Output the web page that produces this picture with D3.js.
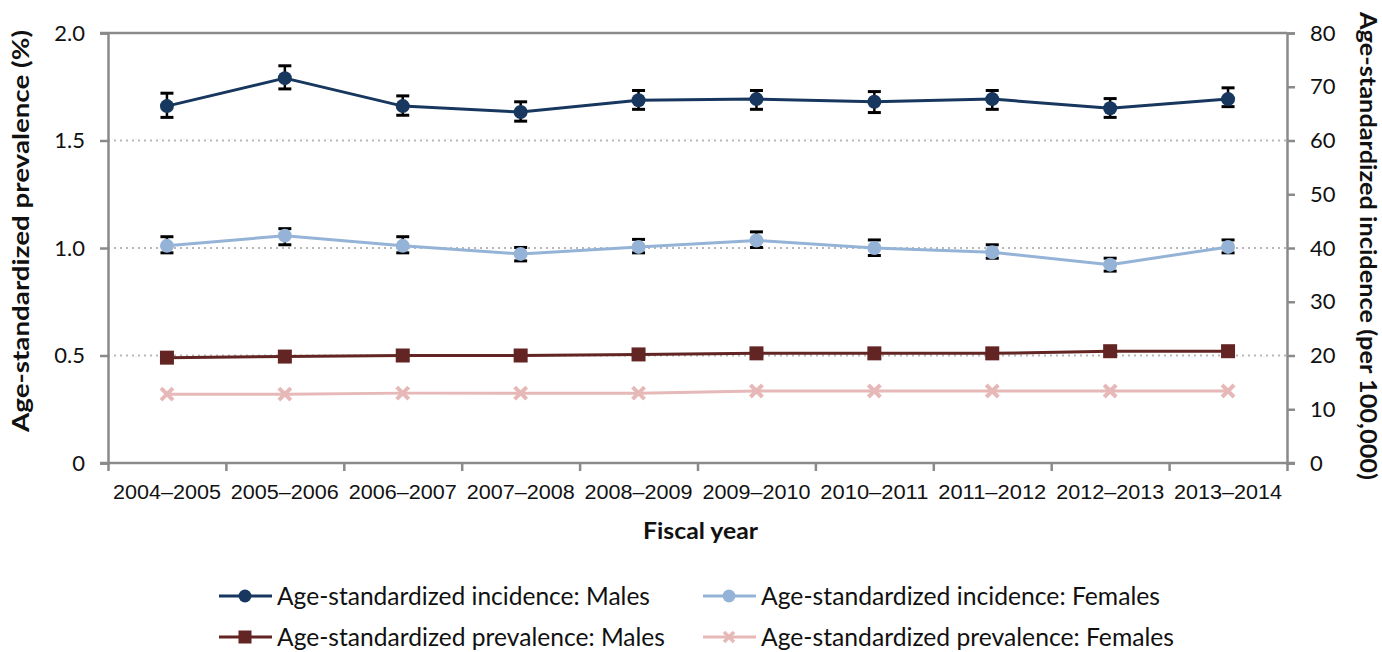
<!DOCTYPE html>
<html>
<head>
<meta charset="utf-8">
<script src="https://cdn.jsdelivr.net/npm/d3@7"></script>
<style>
  html, body { margin: 0; padding: 0; background: #fff; }
  svg { display: block; font-family: Lato, "Open Sans", sans-serif; }
</style>
</head>
<body>
<svg id="chart" width="1382" height="652"></svg>
<script>
// Fiscal years on the category axis
const years = ["2004\u20132005", "2005\u20132006", "2006\u20132007", "2007\u20132008", "2008\u20132009",
               "2009\u20132010", "2010\u20132011", "2011\u20132012", "2012\u20132013", "2013\u20132014"];

// Age-standardized incidence per 100,000 (right axis), with 95% CI bounds
const incMales     = [66.4, 71.6, 66.4, 65.3, 67.5, 67.7, 67.2, 67.7, 66.0, 67.7];
const incMalesLo   = [64.3, 69.6, 64.7, 63.6, 65.8, 65.8, 65.2, 65.8, 64.3, 66.3];
const incMalesHi   = [68.8, 73.9, 68.3, 67.2, 69.3, 69.3, 69.1, 69.3, 67.8, 69.8];
const incFemales   = [40.4, 42.3, 40.4, 38.9, 40.2, 41.4, 40.0, 39.2, 36.9, 40.2];
const incFemalesLo = [39.1, 40.6, 39.1, 37.6, 39.1, 40.1, 38.6, 38.1, 35.7, 39.1];
const incFemalesHi = [42.1, 43.6, 42.1, 40.1, 41.6, 43.0, 41.5, 40.6, 38.1, 41.5];

// Age-standardized prevalence in % (left axis)
const prevMales   = [0.490, 0.495, 0.500, 0.500, 0.505, 0.510, 0.510, 0.510, 0.520, 0.520];
const prevFemales = [0.320, 0.320, 0.325, 0.325, 0.325, 0.335, 0.335, 0.335, 0.335, 0.335];

// Axis ticks
const leftTicks  = [0, 0.5, 1.0, 1.5, 2.0];
const rightTicks = [0, 10, 20, 30, 40, 50, 60, 70, 80];

const colors = {
  incM: "#17375E",
  incF: "#95B3D7",
  prevM: "#632523",
  prevF: "#E6B9B8"
};

const svg = d3.select("#chart");
const m = { left: 108, right: 1287, top: 33, bottom: 463 };

const x = d3.scaleBand().domain(years).range([m.left, m.right]).padding(0);
const yL = d3.scaleLinear().domain([0, 2]).range([m.bottom, m.top]);
const yR = d3.scaleLinear().domain([0, 80]).range([m.bottom, m.top]);
const cx = d => x(d) + x.bandwidth() / 2;

const axisColor = "#8a8a8a";
const textColor = "#111";

// Stretch or squeeze a text element to a given advance width
function fit(sel, width) {
  sel.attr("textLength", width).attr("lengthAdjust", "spacingAndGlyphs");
  return sel;
}

// Dotted gridlines
svg.append("g").selectAll("line")
  .data(leftTicks.filter(t => t > 0 && t < 2))
  .join("line")
  .attr("x1", m.left).attr("x2", m.right)
  .attr("y1", d => yL(d)).attr("y2", d => yL(d))
  .attr("stroke", "#b8b8b8").attr("stroke-width", 2)
  .attr("stroke-dasharray", "2,4");

// Top border of the plot area
svg.append("line")
  .attr("x1", m.left - 8).attr("x2", m.right)
  .attr("y1", m.top).attr("y2", m.top)
  .attr("stroke", axisColor).attr("stroke-width", 2.5);

// Left axis
const gL = svg.append("g").attr("transform", `translate(${m.left},0)`)
  .call(d3.axisLeft(yL).tickValues(leftTicks).tickSize(8).tickPadding(15)
    .tickFormat(d => d === 0 ? "0" : d3.format(".1f")(d)));
// Right axis
const gR = svg.append("g").attr("transform", `translate(${m.right},0)`)
  .call(d3.axisRight(yR).tickValues(rightTicks).tickSize(8).tickPadding(15));
// Bottom axis, ticks on band boundaries
const boundaries = years.map(d => x(d)).concat([m.right]);
const gB = svg.append("g").attr("transform", `translate(0,${m.bottom})`)
  .call(d3.axisBottom(d3.scaleLinear().domain([m.left, m.right]).range([m.left, m.right]))
    .tickValues(boundaries).tickSize(8).tickFormat(""));
gB.append("g").selectAll("text")
  .data(years).join("text")
  .attr("x", d => cx(d)).attr("y", 36)
  .attr("text-anchor", "middle")
  .attr("fill", textColor)
  .attr("font-size", 19.5)
  .text(d => d)
  .call(fit, 108);

[gL, gR, gB].forEach(g => {
  g.select(".domain").attr("stroke", axisColor).attr("stroke-width", 2.5);
  g.selectAll(".tick line").attr("stroke", axisColor).attr("stroke-width", 2.5);
  g.selectAll(".tick text").attr("fill", textColor).attr("font-size", 22)
    .attr("font-family", "Lato, sans-serif");
});
gB.select(".domain").attr("d", `M${m.left - 8},0H${m.right + 8}`);

// Axis titles
svg.append("text")
  .attr("transform", `translate(29,231) rotate(-90)`)
  .attr("text-anchor", "middle")
  .attr("font-weight", 700).attr("font-size", 22).attr("fill", textColor)
  .text("Age-standardized prevalence (%)")
  .call(fit, 402);
svg.append("text")
  .attr("transform", `translate(1360,246) rotate(90)`)
  .attr("text-anchor", "middle")
  .attr("font-weight", 700).attr("font-size", 22).attr("fill", textColor)
  .text("Age-standardized incidence (per 100,000)")
  .call(fit, 468);
svg.append("text")
  .attr("x", 700.5).attr("y", 539)
  .attr("text-anchor", "middle")
  .attr("font-weight", 700).attr("font-size", 22).attr("fill", textColor)
  .text("Fiscal year")
  .call(fit, 115);

// Series drawing helpers
function drawLine(values, y, color) {
  svg.append("path")
    .datum(values)
    .attr("fill", "none")
    .attr("stroke", color).attr("stroke-width", 3)
    .attr("stroke-linejoin", "round")
    .attr("d", d3.line().x((d, i) => cx(years[i])).y(d => y(d)));
}
function drawErrorBars(lo, hi, y) {
  const g = svg.append("g").attr("stroke", "#000").attr("stroke-width", 2.5);
  years.forEach((yr, i) => {
    const X = cx(yr);
    g.append("line").attr("x1", X).attr("x2", X).attr("y1", y(lo[i])).attr("y2", y(hi[i]));
    g.append("line").attr("x1", X - 6.5).attr("x2", X + 6.5).attr("y1", y(lo[i])).attr("y2", y(lo[i])).attr("stroke-width", 3);
    g.append("line").attr("x1", X - 6.5).attr("x2", X + 6.5).attr("y1", y(hi[i])).attr("y2", y(hi[i])).attr("stroke-width", 3);
  });
}
function drawCircles(values, y, color, r) {
  svg.append("g").selectAll("circle")
    .data(values).join("circle")
    .attr("cx", (d, i) => cx(years[i])).attr("cy", d => y(d))
    .attr("r", r).attr("fill", color);
}
function drawSquares(values, y, color, s) {
  svg.append("g").selectAll("rect")
    .data(values).join("rect")
    .attr("x", (d, i) => cx(years[i]) - s / 2).attr("y", d => y(d) - s / 2)
    .attr("width", s).attr("height", s).attr("fill", color);
}
function drawCrosses(values, y, color, s) {
  const g = svg.append("g").attr("stroke", color).attr("stroke-width", 4);
  values.forEach((d, i) => {
    const X = cx(years[i]), Y = y(d);
    g.append("path").attr("d", `M${X - s},${Y - s}L${X + s},${Y + s}M${X - s},${Y + s}L${X + s},${Y - s}`);
  });
}

// Prevalence (left axis)
drawLine(prevFemales, yL, colors.prevF);
drawCrosses(prevFemales, yL, colors.prevF, 6);
drawLine(prevMales, yL, colors.prevM);
drawSquares(prevMales, yL, colors.prevM, 14);

// Incidence (right axis)
drawLine(incFemales, yR, colors.incF);
drawErrorBars(incFemalesLo, incFemalesHi, yR);
drawCircles(incFemales, yR, colors.incF, 7);
drawLine(incMales, yR, colors.incM);
drawErrorBars(incMalesLo, incMalesHi, yR);
drawCircles(incMales, yR, colors.incM, 7);

// Legend (two rows, two columns)
const legendItems = [
  { label: "Age-standardized incidence: Males",     color: colors.incM,  shape: "circle", lx: 219, ly: 596, w: 373 },
  { label: "Age-standardized incidence: Females",   color: colors.incF,  shape: "circle", lx: 703, ly: 596, w: 399 },
  { label: "Age-standardized prevalence: Males",    color: colors.prevM, shape: "square", lx: 219, ly: 637, w: 388 },
  { label: "Age-standardized prevalence: Females",  color: colors.prevF, shape: "cross",  lx: 703, ly: 637, w: 413 }
];
const lg = svg.append("g");
legendItems.forEach(it => {
  const g = lg.append("g").attr("transform", `translate(${it.lx},${it.ly})`);
  g.append("line").attr("x1", 0).attr("x2", 53).attr("y1", 0).attr("y2", 0)
    .attr("stroke", it.color).attr("stroke-width", 3);
  if (it.shape === "circle") g.append("circle").attr("cx", 26).attr("r", 6.5).attr("fill", it.color);
  if (it.shape === "square") g.append("rect").attr("x", 19.5).attr("y", -6.5).attr("width", 13).attr("height", 13).attr("fill", it.color);
  if (it.shape === "cross") g.append("path").attr("d", "M21,-5L31,5M21,5L31,-5").attr("stroke", it.color).attr("stroke-width", 3.5);
  g.append("text").attr("x", 58).attr("y", 8.5)
    .attr("font-size", 25).attr("fill", textColor)
    .text(it.label)
    .call(fit, it.w);
});
</script>
</body>
</html>
